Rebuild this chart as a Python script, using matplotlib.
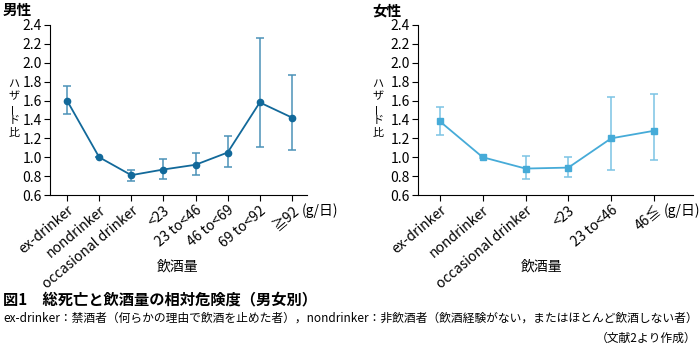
import matplotlib.pyplot as plt
import numpy as np

plt.rcParams['font.family'] = ['Noto Sans CJK JP', 'DejaVu Sans']

# 男性
male_cats = ["ex-drinker", "nondrinker", "occasional drinker", "<23",
             "23 to<46", "46 to<69", "69 to<92", "≧92"]
male_hr = [1.60, 1.00, 0.81, 0.87, 0.92, 1.05, 1.58, 1.42]
male_lo = [1.46, 1.00, 0.75, 0.77, 0.81, 0.90, 1.11, 1.08]
male_hi = [1.75, 1.00, 0.87, 0.98, 1.05, 1.22, 2.26, 1.87]

# 女性
female_cats = ["ex-drinker", "nondrinker", "occasional drinker", "<23",
               "23 to<46", "46≦"]
female_hr = [1.38, 1.00, 0.88, 0.89, 1.20, 1.28]
female_lo = [1.24, 0.99, 0.77, 0.79, 0.87, 0.97]
female_hi = [1.53, 1.01, 1.01, 1.00, 1.64, 1.67]

yticks = np.arange(0.6, 2.41, 0.2)

W, H = 699, 355
fig = plt.figure(figsize=(W / 100, H / 100), dpi=100)


def panel(rect, cats, hr, lo, hi, color, ecolor, marker, title, tx, xlim, gx):
    ax = fig.add_axes(rect)
    x = np.arange(len(cats))
    hr = np.array(hr)
    yerr = [hr - np.array(lo), np.array(hi) - hr]
    ax.errorbar(x, hr, yerr=yerr, fmt='none', ecolor=ecolor, elinewidth=1.1,
                capsize=3, capthick=1.1, zorder=2)
    ax.plot(x, hr, color=color, lw=1.3, marker=marker, ms=4.5, zorder=3)
    ax.set_xlim(*xlim)
    ax.set_ylim(0.6, 2.4)
    ax.set_yticks(yticks)
    ax.set_yticklabels(["%.1f" % v for v in yticks])
    ax.set_xticks(x)
    ax.set_xticklabels(cats, rotation=40, ha='right', rotation_mode='anchor')
    for s in ['top', 'right']:
        ax.spines[s].set_visible(False)
    ax.tick_params(labelsize=10, length=4, width=0.8, pad=2)
    fig.text(gx / W, 1 - 211 / H, "(g/日)", fontsize=10, ha='left',
             va='center')
    fig.text(tx / W, 1 - 10 / H, title, fontsize=10.5, fontweight='bold',
             ha='left', va='center')
    return ax


panel([50 / W, 1 - 195 / H, 257 / W, 170 / H], male_cats, male_hr, male_lo,
      male_hi, '#12699a', '#4b92b8', 'o', "男性", 3, (-0.53, 7.47), 302)
panel([418 / W, 1 - 195 / H, 275 / W, 170 / H], female_cats, female_hr,
      female_lo, female_hi, '#46abd8', '#7cc3e4', 's', "女性", 372,
      (-0.51, 5.91), 664)

# 縦書きの y ラベル
for xl in [14, 378]:
    chars = ["ハ", "ザ", "ー", "ド", "比"]
    ys = [84, 96, 108, 120, 133]
    for c, yy in zip(chars, ys):
        rot = 90 if c == "ー" else 0
        fig.text(xl / W, 1 - yy / H, c, fontsize=8, ha='center',
                 va='center', rotation=rot)

fig.text(178 / W, 1 - 267 / H, "飲酒量", fontsize=10, ha='center', va='center')
fig.text(542 / W, 1 - 267 / H, "飲酒量", fontsize=10, ha='center', va='center')

fig.text(3 / W, 1 - 299 / H, "図1　総死亡と飲酒量の相対危険度（男女別）",
         fontsize=11, fontweight='bold', ha='left', va='center')
fig.text(3 / W, 1 - 318 / H,
         "ex-drinker：禁酒者（何らかの理由で飲酒を止めた者），nondrinker：非飲酒者（飲酒経験がない，またはほとんど飲酒しない者）",
         fontsize=8.5, ha='left', va='center')
fig.text(696 / W, 1 - 338 / H, "（文献2より作成）", fontsize=8.5,
         ha='right', va='center')

fig.savefig("out.png", dpi=100)
